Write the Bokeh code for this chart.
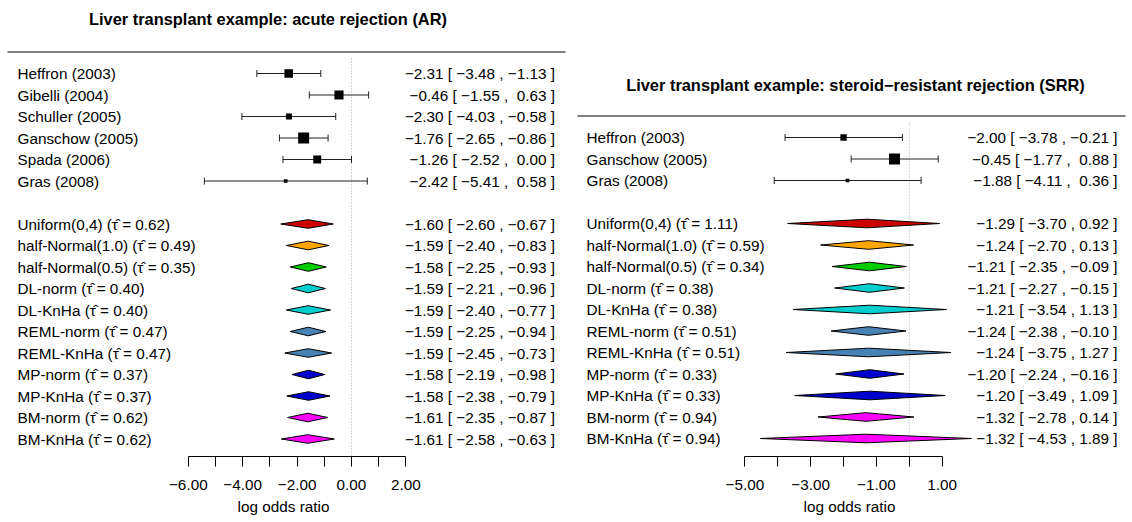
import math
from bokeh.plotting import figure
from bokeh.layouts import row
from bokeh.models import Range1d, FixedTicker
from bokeh.core.properties import value
from bokeh.embed import file_html
from bokeh.resources import INLINE

MINUS = "\u2212"

# ---------------- data ----------------
methods = ["Uniform(0,4)", "half-Normal(1.0)", "half-Normal(0.5)", "DL-norm", "DL-KnHa",
           "REML-norm", "REML-KnHa", "MP-norm", "MP-KnHa", "BM-norm", "BM-KnHa"]
method_colors = ["#CD0000", "#FFA500", "#00CD00", "#00CDCD", "#00CDCD",
                 "#4682B4", "#4682B4", "#0000CD", "#0000CD", "#FF00FF", "#FF00FF"]

# acute rejection (AR)
ar_studies = ["Heffron (2003)", "Gibelli (2004)", "Schuller (2005)",
              "Ganschow (2005)", "Spada (2006)", "Gras (2008)"]
ar_est = [-2.31, -0.46, -2.30, -1.76, -1.26, -2.42]
ar_lo = [-3.48, -1.55, -4.03, -2.65, -2.52, -5.41]
ar_hi = [-1.13, 0.63, -0.58, -0.86, 0.00, 0.58]
ar_tau = [0.62, 0.49, 0.35, 0.40, 0.40, 0.47, 0.47, 0.37, 0.37, 0.62, 0.62]
ar_sum_est = [-1.60, -1.59, -1.58, -1.59, -1.59, -1.59, -1.59, -1.58, -1.58, -1.61, -1.61]
ar_sum_lo = [-2.60, -2.40, -2.25, -2.21, -2.40, -2.25, -2.45, -2.19, -2.38, -2.35, -2.58]
ar_sum_hi = [-0.67, -0.83, -0.93, -0.96, -0.77, -0.94, -0.73, -0.98, -0.79, -0.87, -0.63]
ar_ticks = [-6, -5, -4, -3, -2, -1, 0, 1, 2]
ar_tick_labels = ["\u22126.00", "", "\u22124.00", "", "\u22122.00", "", "0.00", "", "2.00"]

# steroid-resistant rejection (SRR)
srr_studies = ["Heffron (2003)", "Ganschow (2005)", "Gras (2008)"]
srr_est = [-2.00, -0.45, -1.88]
srr_lo = [-3.78, -1.77, -4.11]
srr_hi = [-0.21, 0.88, 0.36]
srr_tau = [1.11, 0.59, 0.34, 0.38, 0.38, 0.51, 0.51, 0.33, 0.33, 0.94, 0.94]
srr_sum_est = [-1.29, -1.24, -1.21, -1.21, -1.21, -1.24, -1.24, -1.20, -1.20, -1.32, -1.32]
srr_sum_lo = [-3.70, -2.70, -2.35, -2.27, -3.54, -2.38, -3.75, -2.24, -3.49, -2.78, -4.53]
srr_sum_hi = [0.92, 0.13, -0.09, -0.15, 1.13, -0.10, 1.27, -0.16, 1.09, 0.14, 1.89]
srr_ticks = [-5, -4, -3, -2, -1, 0, 1]
srr_tick_labels = ["\u22125.00", "", "\u22123.00", "", "\u22121.00", "", "1.00"]

# ---------------- layout ----------------
FONT = "Liberation Sans"
FS = "15.3px"
TITLE_FS = "16.4px"
FIG_W = 566
FRAME_H = 456
BOTTOM = 64
FIG_H = FRAME_H + BOTTOM
ROW_PX = 21.5


def fmt(v, pad):
    s = f"{abs(v):.2f}"
    if v < 0:
        return MINUS + s
    return ("\u00a0" + s) if pad else s


def make_panel(title, studies, est, lo, hi, tau, sest, slo, shi, ticks, tick_labels,
               zero_px, unit_px, first_row_px, label_px, ann_px, title_px, line_px, pad_sum):
    def X(px):
        return (px - zero_px) / unit_px

    def Y(py):
        return 1 + (py - first_row_px) / ROW_PX

    xr = Range1d(X(0), X(FIG_W))
    yr = Range1d(Y(FRAME_H), Y(0))
    p = figure(width=FIG_W, height=FIG_H, x_range=xr, y_range=yr,
               output_backend="svg", toolbar_location=None, y_axis_location=None,
               min_border_left=0, min_border_right=0, min_border_top=0, min_border_bottom=BOTTOM)
    p.outline_line_color = None
    p.xgrid.visible = False
    p.ygrid.visible = False
    p.background_fill_color = "white"

    n = len(studies)
    srows = list(range(1, n + 1))
    mrows = list(range(n + 2, n + 2 + len(methods)))

    # title and top rule
    p.text(x=[X(title_px[0])], y=[Y(title_px[1])], text=[title], text_font=value(FONT),
           text_font_style="bold", text_font_size=TITLE_FS, text_align="center",
           text_baseline="middle", text_color="black")
    p.segment(x0=[X(max(line_px[0], 0))], y0=[0], x1=[X(min(line_px[1], FIG_W))], y1=[0],
              line_color="black", line_width=1)

    # reference line
    p.segment(x0=[0], y0=[0.3], x1=[0], y1=[Y(FRAME_H)], line_color="#a8a8a8",
              line_dash="1 2", line_width=1)

    # study CIs
    p.segment(x0=lo, y0=srows, x1=hi, y1=srows, line_color="#222222", line_width=1)
    p.scatter(x=lo + hi, y=srows + srows, marker="dash", size=7, angle=math.pi / 2,
              line_color="#222222", line_width=1)
    wi = [1.0 / ((h - l) / 3.92) for l, h in zip(lo, hi)]
    wmin, wmax = min(wi), max(wi)
    psize = [0.5 + (w - wmin) / (wmax - wmin) for w in wi]
    p.scatter(x=est, y=srows, marker="square", size=[ps * 7.33 for ps in psize],
              fill_color="black", line_color=None)

    # summary diamonds
    h = 0.2
    xs = [[l, e, u, e] for l, e, u in zip(slo, sest, shi)]
    ys = [[r, r - h, r, r + h] for r in mrows]
    p.patches(xs=xs, ys=ys, fill_color=method_colors, line_color="black", line_width=1)

    # labels
    labels = studies + [f"{m} (\u03c4\u0302 = {t:.2f})" for m, t in zip(methods, tau)]
    p.text(x=[X(label_px)] * len(labels), y=srows + mrows, text=labels, text_font=value(FONT),
           text_font_size=FS, text_align="left", text_baseline="middle", text_color="black")
    ann = [f"{fmt(e, True)} [ {fmt(l, True)} , {fmt(u, True)} ]" for e, l, u in zip(est, lo, hi)]
    ann += [f"{fmt(e, pad_sum)} [ {fmt(l, pad_sum)} , {fmt(u, pad_sum)} ]" for e, l, u in zip(sest, slo, shi)]
    p.text(x=[X(ann_px)] * len(ann), y=srows + mrows, text=ann, text_font=value(FONT),
           text_font_size=FS, text_align="right", text_baseline="middle", text_color="black")

    # axis
    ax = p.xaxis[0]
    ax.ticker = FixedTicker(ticks=ticks)
    ax.bounds = (ticks[0], ticks[-1])
    ax.major_label_overrides = {float(t): lab for t, lab in zip(ticks, tick_labels)}
    ax.minor_tick_line_color = None
    ax.major_tick_in = 0
    ax.major_tick_out = 10
    ax.axis_line_color = "black"
    ax.major_tick_line_color = "black"
    ax.major_label_standoff = 13
    ax.major_label_text_font = FONT
    ax.major_label_text_font_size = FS
    ax.major_label_text_color = "black"
    ax.axis_label = "log odds ratio"
    ax.axis_label_text_font = FONT
    ax.axis_label_text_font_size = FS
    ax.axis_label_text_font_style = "normal"
    ax.axis_label_text_color = "black"
    ax.axis_label_standoff = 5
    return p


left = make_panel("Liver transplant example: acute rejection (AR)",
                  ar_studies, ar_est, ar_lo, ar_hi, ar_tau, ar_sum_est, ar_sum_lo, ar_sum_hi,
                  ar_ticks, ar_tick_labels,
                  zero_px=351, unit_px=27.2, first_row_px=73, label_px=17, ann_px=554.5,
                  title_px=(267.5, 18), line_px=(7, 565), pad_sum=True)
right = make_panel("Liver transplant example: steroid\u2212resistant rejection (SRR)",
                   srr_studies, srr_est, srr_lo, srr_hi, srr_tau, srr_sum_est, srr_sum_lo, srr_sum_hi,
                   srr_ticks, srr_tick_labels,
                   zero_px=342.8, unit_px=32.87, first_row_px=137, label_px=20, ann_px=551,
                   title_px=(289, 84.5), line_px=(11, 559), pad_sum=False)

layout = row(left, right)
open("out.html", "w").write(file_html(layout, INLINE))
